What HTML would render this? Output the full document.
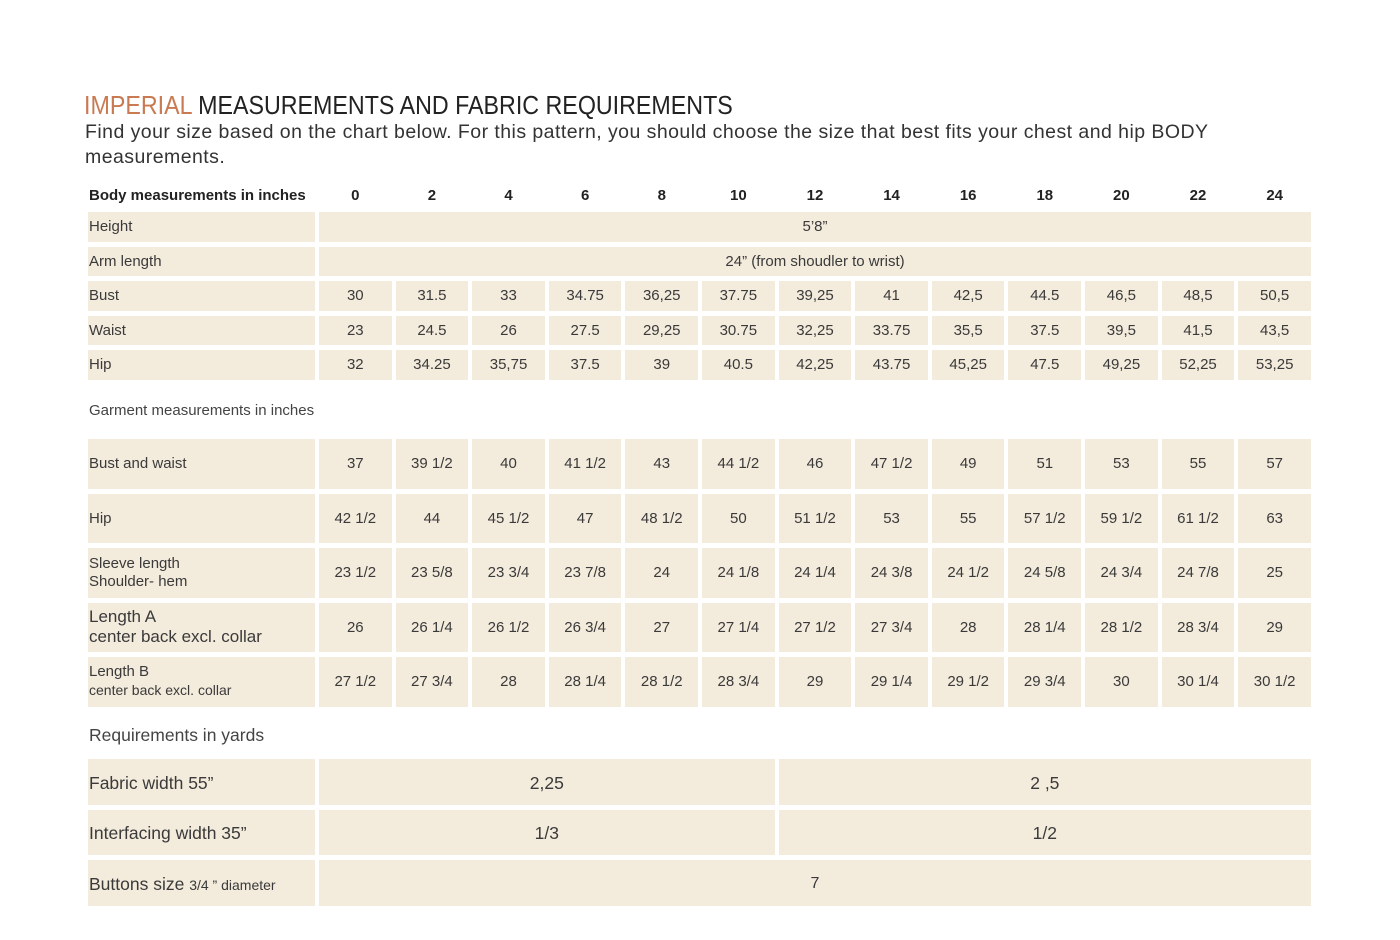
<!DOCTYPE html>
<html><head><meta charset="utf-8"><style>
body{margin:0;background:#fff;width:1400px;height:940px;position:relative;font-family:"Liberation Sans",sans-serif;color:#2e2e2e;overflow:hidden}
.t{position:absolute;left:84px;font-size:26px;top:90px;color:#222;transform:scaleX(0.894);transform-origin:left;white-space:nowrap}
.t span{color:#c97a52}
.s{position:absolute;left:85px;top:120px;font-size:19.5px;line-height:25px;width:1230px;color:#333;letter-spacing:0.45px}
table{position:absolute;left:84px;width:1231px;table-layout:fixed;border-collapse:separate}
td{background:#f3ebdc;text-align:center;font-size:15px;padding:0;color:#3a3a3a}
td.l{text-align:left;padding-left:1px}
.b{border-spacing:4px 5px}
.b td{height:29.5px}
.b tr.h td{background:none;font-weight:bold;font-size:15px;height:24px;color:#222}
.g{border-spacing:4px 5px}
.g td{height:49.5px}
.r{border-spacing:4px 5px}
.r td{height:45.5px;font-size:17.5px;padding-top:3px;box-sizing:border-box}
.lab{position:absolute;left:89px;font-size:15px;color:#444}
</style></head><body>
<div class="t"><span>IMPERIAL</span> MEASUREMENTS AND FABRIC REQUIREMENTS</div>
<div class="s">Find your size based on the chart below. For this pattern, you should choose the size that best fits your chest and hip BODY measurements.</div>
<table class="b" style="top:178px"><colgroup><col style="width:227px"><col span="13"></colgroup>
<tr class="h"><td class="l">Body measurements in inches</td><td>0</td><td>2</td><td>4</td><td>6</td><td>8</td><td>10</td><td>12</td><td>14</td><td>16</td><td>18</td><td>20</td><td>22</td><td>24</td></tr>
<tr><td class="l">Height</td><td colspan="13">5’8”</td></tr>
<tr><td class="l">Arm length</td><td colspan="13">24” (from shoudler to wrist)</td></tr>
<tr><td class="l">Bust</td><td>30</td><td>31.5</td><td>33</td><td>34.75</td><td>36,25</td><td>37.75</td><td>39,25</td><td>41</td><td>42,5</td><td>44.5</td><td>46,5</td><td>48,5</td><td>50,5</td></tr>
<tr><td class="l">Waist</td><td>23</td><td>24.5</td><td>26</td><td>27.5</td><td>29,25</td><td>30.75</td><td>32,25</td><td>33.75</td><td>35,5</td><td>37.5</td><td>39,5</td><td>41,5</td><td>43,5</td></tr>
<tr><td class="l">Hip</td><td>32</td><td>34.25</td><td>35,75</td><td>37.5</td><td>39</td><td>40.5</td><td>42,25</td><td>43.75</td><td>45,25</td><td>47.5</td><td>49,25</td><td>52,25</td><td>53,25</td></tr>
</table>
<div class="lab" style="top:402px">Garment measurements in inches</div>
<table class="g" style="top:434px"><colgroup><col style="width:227px"><col span="13"></colgroup>
<tr><td class="l">Bust and waist</td><td>37</td><td>39 1/2</td><td>40</td><td>41 1/2</td><td>43</td><td>44 1/2</td><td>46</td><td>47 1/2</td><td>49</td><td>51</td><td>53</td><td>55</td><td>57</td></tr>
<tr><td class="l">Hip</td><td>42 1/2</td><td>44</td><td>45 1/2</td><td>47</td><td>48 1/2</td><td>50</td><td>51 1/2</td><td>53</td><td>55</td><td>57 1/2</td><td>59 1/2</td><td>61 1/2</td><td>63</td></tr>
<tr><td class="l" style="line-height:18px">Sleeve length<br>Shoulder- hem</td><td>23 1/2</td><td>23 5/8</td><td>23 3/4</td><td>23 7/8</td><td>24</td><td>24 1/8</td><td>24 1/4</td><td>24 3/8</td><td>24 1/2</td><td>24 5/8</td><td>24 3/4</td><td>24 7/8</td><td>25</td></tr>
<tr><td class="l" style="font-size:17px;line-height:20px">Length A<br>center back excl. collar</td><td>26</td><td>26 1/4</td><td>26 1/2</td><td>26 3/4</td><td>27</td><td>27 1/4</td><td>27 1/2</td><td>27 3/4</td><td>28</td><td>28 1/4</td><td>28 1/2</td><td>28 3/4</td><td>29</td></tr>
<tr><td class="l" style="line-height:18px"><span style="font-size:15px">Length B</span><br><span style="font-size:14px">center back excl. collar</span></td><td>27 1/2</td><td>27 3/4</td><td>28</td><td>28 1/4</td><td>28 1/2</td><td>28 3/4</td><td>29</td><td>29 1/4</td><td>29 1/2</td><td>29 3/4</td><td>30</td><td>30 1/4</td><td>30 1/2</td></tr>
</table>
<div class="lab" style="top:725px;font-size:17.5px">Requirements in yards</div>
<table class="r" style="top:754px"><colgroup><col style="width:227px"><col span="13"></colgroup>
<tr><td class="l">Fabric width 55”</td><td colspan="6">2,25</td><td colspan="7">2 ,5</td></tr>
<tr><td class="l">Interfacing width 35”</td><td colspan="6">1/3</td><td colspan="7">1/2</td></tr>
<tr><td class="l">Buttons size <span style="font-size:14px">3/4 ” diameter</span></td><td colspan="13" style="font-size:16px">7</td></tr>
</table>
</body></html>
